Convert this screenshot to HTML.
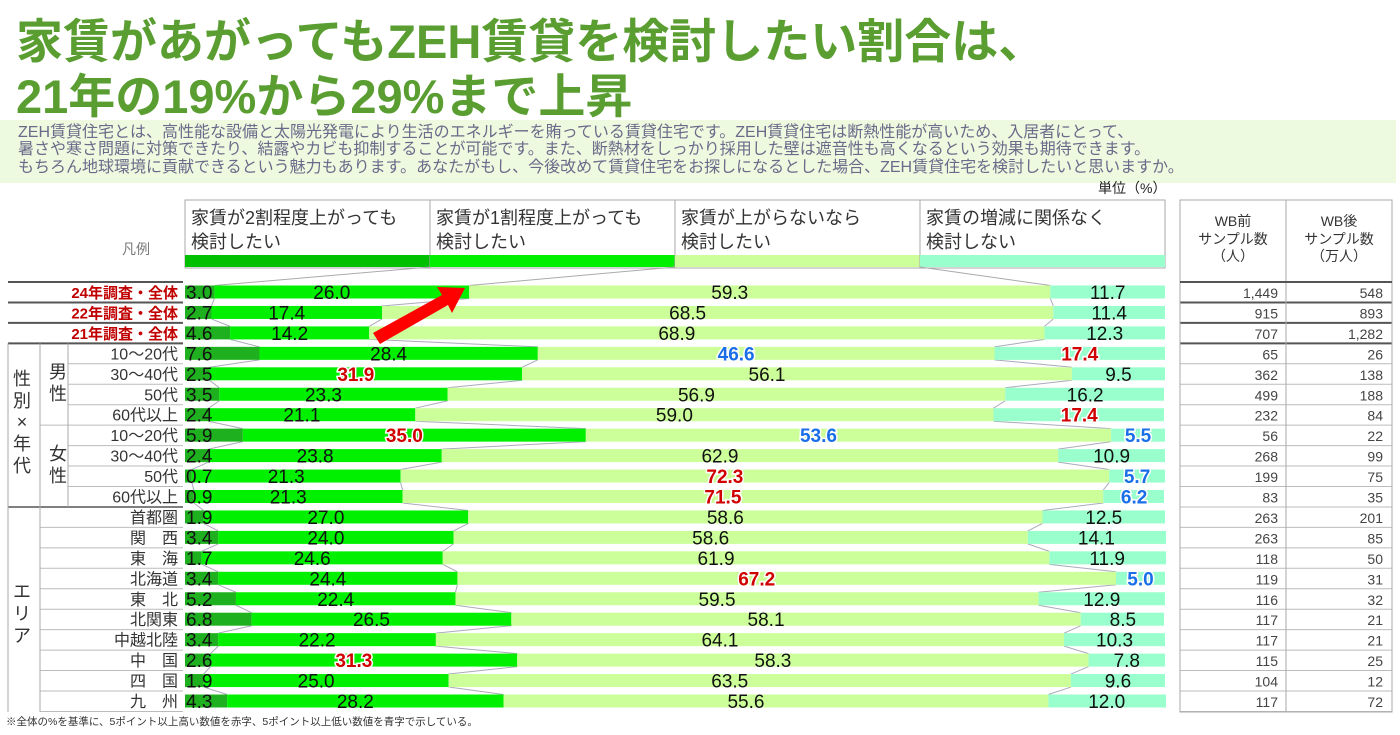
<!DOCTYPE html>
<html><head><meta charset="utf-8">
<style>
body{margin:0;width:1400px;height:730px;background:#fff;overflow:hidden;font-family:"Liberation Sans","Noto Sans CJK JP",sans-serif;}
svg text{font-family:"Liberation Sans","Noto Sans CJK JP",sans-serif;}
</style></head><body>
<svg id="chart" width="1400" height="730" xmlns="http://www.w3.org/2000/svg">
<text x="16" y="58" font-size="47" font-weight="bold" fill="#5a9e32">家賃があがってもZEH賃貸を検討したい割合は、</text>
<text x="16" y="113" font-size="47" font-weight="bold" fill="#5a9e32">21年の19%から29%まで上昇</text>
<rect x="0" y="120" width="1396" height="63" fill="#eefadf"/>
<g font-size="16" fill="#6a6a8a">
<text x="18" y="137">ZEH賃貸住宅とは、高性能な設備と太陽光発電により生活のエネルギーを賄っている賃貸住宅です。ZEH賃貸住宅は断熱性能が高いため、入居者にとって、</text>
<text x="18" y="154">暑さや寒さ問題に対策できたり、結露やカビも抑制することが可能です。また、断熱材をしっかり採用した壁は遮音性も高くなるという効果も期待できます。</text>
<text x="18" y="172">もちろん地球環境に貢献できるという魅力もあります。あなたがもし、今後改めて賃貸住宅をお探しになるとした場合、ZEH賃貸住宅を検討したいと思いますか。</text>
</g>
<text x="1098" y="193" font-size="14" fill="#222">単位（%）</text>
<g id="g"></g>
<text x="6" y="725" font-size="10.5" fill="#333">※全体の%を基準に、5ポイント以上高い数値を赤字、5ポイント以上低い数値を青字で示している。</text>
</svg>
<script>
const rowLabels=["24年調査・全体","22年調査・全体","21年調査・全体","10～20代","30～40代","50代","60代以上","10～20代","30～40代","50代","60代以上","首都圏","関　西","東　海","北海道","東　北","北関東","中越北陸","中　国","四　国","九　州"];
const s1=[3.0,2.7,4.6,7.6,2.5,3.5,2.4,5.9,2.4,0.7,0.9,1.9,3.4,1.7,3.4,5.2,6.8,3.4,2.6,1.9,4.3];
const s2=[26.0,17.4,14.2,28.4,31.9,23.3,21.1,35.0,23.8,21.3,21.3,27.0,24.0,24.6,24.4,22.4,26.5,22.2,31.3,25.0,28.2];
const s3=[59.3,68.5,68.9,46.6,56.1,56.9,59.0,53.6,62.9,72.3,71.5,58.6,58.6,61.9,67.2,59.5,58.1,64.1,58.3,63.5,55.6];
const s4=[11.7,11.4,12.3,17.4,9.5,16.2,17.4,5.5,10.9,5.7,6.2,12.5,14.1,11.9,5.0,12.9,8.5,10.3,7.8,9.6,12.0];
const c2=["","","","","r","","","r","","","","","","","","","","","r","",""];
const c3=["","","","b","","","","b","","r","r","","","","r","","","","","",""];
const c4=["","","","r","","","r","b","","b","b","","","","b","","","","","",""];
const sampleBefore=["1,449","915","707","65","362","499","232","56","268","199","83","263","263","118","119","116","117","117","115","104","117"];
const sampleAfter=["548","893","1,282","26","138","188","84","22","99","75","35","201","85","50","31","32","21","21","25","12","72"];
const legendNames=["家賃が2割程度上がっても|検討したい","家賃が1割程度上がっても|検討したい","家賃が上がらないなら|検討したい","家賃の増減に関係なく|検討しない"];
const X0=185,X1=1165,Y0=282,RH=20.45,BH=13;
const xs=v=>X0+v/100*(X1-X0);
const yc=i=>Y0+RH*i+10;
const g=document.getElementById('g');
const NS="http://www.w3.org/2000/svg";
function mk(t,a,txt){const e=document.createElementNS(NS,t);for(const k in a)e.setAttribute(k,a[k]);if(txt!==undefined)e.textContent=txt;g.appendChild(e);return e;}
const colors=["#1fb01f","#00f000","#ccff99","#99ffcc"];
const col={r:"#d00000",b:"#1a6ee8","":"#111"};
for(let k=0;k<4;k++){
 const x=X0+245*k;
 let r=mk('rect',{x:x,y:200,width:245,height:68,fill:'#fff',stroke:'#aaa'});
 
 const [l1,l2]=legendNames[k].split('|');
 let t=mk('text',{x:x+6,y:224,'font-size':18,fill:'#333'},l1);
 
 mk('text',{x:x+6,y:248,'font-size':18,fill:'#333'},l2);
 let b=mk('rect',{x:x,y:255,width:245,height:12,fill:k==0?'#00c000':colors[k]});
 
}
let lg=mk('text',{x:122,y:254,'font-size':14,fill:'#777'},'凡例');

const cum=i=>[s1[i],s1[i]+s2[i],s1[i]+s2[i]+s3[i]];
for(let k=0;k<3;k++){
 mk('line',{x1:X0+245*(k+1),y1:267,x2:xs(cum(0)[k]),y2:yc(0)-BH/2,stroke:'#aaa','stroke-width':1});
 for(let i=0;i<20;i++){mk('line',{x1:xs(cum(i)[k]),y1:yc(i)+BH/2,x2:xs(cum(i+1)[k]),y2:yc(i+1)-BH/2,stroke:'#aab','stroke-width':1});}
}
for(let i=0;i<21;i++){
 const vals=[s1[i],s2[i],s3[i],s4[i]];let acc=0;
 vals.forEach((v,k)=>{
  const r=mk('rect',{x:xs(acc),y:yc(i)-BH/2,width:xs(acc+v)-xs(acc),height:BH,fill:colors[k]});
  
  acc+=v;
 });
 const c=cum(i);
 const lab=(x,txt,cl,anchor)=>{const t=mk('text',{x:x,y:yc(i)+7,'font-size':19,'text-anchor':anchor||'middle',fill:col[cl],'font-weight':cl?'bold':'normal',stroke:cl?'#fff':'none','stroke-width':cl?3:0,'paint-order':'stroke'},txt);
  };
 lab(X0+1,s1[i].toFixed(1),"", 'start');
 lab(Math.max((xs(c[0])+xs(c[1]))/2-10,X0+75),s2[i].toFixed(1),c2[i]);
 lab((xs(c[1])+xs(c[2]))/2-30,s3[i].toFixed(1),c3[i]);
 lab((xs(c[2])+X1)/2,s4[i].toFixed(1),c4[i]);
 const t=mk('text',{x:178,y:yc(i)+6,'font-size':i<3?15:16,'text-anchor':'end',fill:i<3?'#c00000':'#333','font-weight':i<3?'bold':'normal'},rowLabels[i]);
 
 const sb=mk('text',{x:1278,y:yc(i)+6,'font-size':14,'text-anchor':'end',fill:'#444'},sampleBefore[i]);
 
 const sa=mk('text',{x:1383,y:yc(i)+6,'font-size':14,'text-anchor':'end',fill:'#444'},sampleAfter[i]);
 
 mk('line',{x1:1180,y1:Y0+RH*(i+1),x2:1392,y2:Y0+RH*(i+1),stroke:i<3?'#555':'#bbb','stroke-width':i<3?2:1});
 mk('line',{x1:i<3?8:(i<11?68:40),y1:Y0+RH*(i+1),x2:183,y2:Y0+RH*(i+1),stroke:i<3?'#555':'#bbb','stroke-width':i<3?2:1});
}
mk('line',{x1:8,y1:Y0,x2:183,y2:Y0,stroke:'#555','stroke-width':2});
mk('line',{x1:8,y1:Y0+RH*11,x2:183,y2:Y0+RH*11,stroke:'#555','stroke-width':1.5});
mk('line',{x1:40,y1:Y0+RH*7,x2:68,y2:Y0+RH*7,stroke:'#bbb'});
mk('line',{x1:8,y1:Y0+RH*3,x2:8,y2:712,stroke:'#aaa'});
mk('line',{x1:40,y1:Y0+RH*3,x2:40,y2:712,stroke:'#aaa'});
mk('line',{x1:68,y1:Y0+RH*3,x2:68,y2:Y0+RH*11,stroke:'#aaa'});
[["性",22,385],["別",22,407],["×",22,428],["年",22,450],["代",22,472],["男",58,378],["性",58,400],["女",58,460],["性",58,482],["エ",22,598],["リ",22,620],["ア",22,642]].forEach(([c,x,y])=>{
 const t=mk('text',{x:x,y:y,'font-size':18,'text-anchor':'middle',fill:'#333'},c);
 });
mk('rect',{x:1180,y:200,width:212,height:512,fill:'none',stroke:'#aaa'});
mk('line',{x1:1286,y1:200,x2:1286,y2:712,stroke:'#aaa'});
mk('line',{x1:1180,y1:Y0,x2:1392,y2:Y0,stroke:'#555','stroke-width':2});
[["WB前",1233],["WB後",1339]].forEach(([h,x])=>{
 const t=mk('text',{x:x,y:226,'font-size':14,'text-anchor':'middle',fill:'#333'},h);
 
 mk('text',{x:x,y:244,'font-size':14,'text-anchor':'middle',fill:'#333'},'サンプル数');
 mk('text',{x:x,y:261,'font-size':14,'text-anchor':'middle',fill:'#333'},h=="WB前"?'（人）':'（万人）');
});
const ar=mk('polygon',{points:'373,333 442,295 437,287 465,288 452,313 448,305 380,344',fill:'#f00'});

</script>
</body></html>
